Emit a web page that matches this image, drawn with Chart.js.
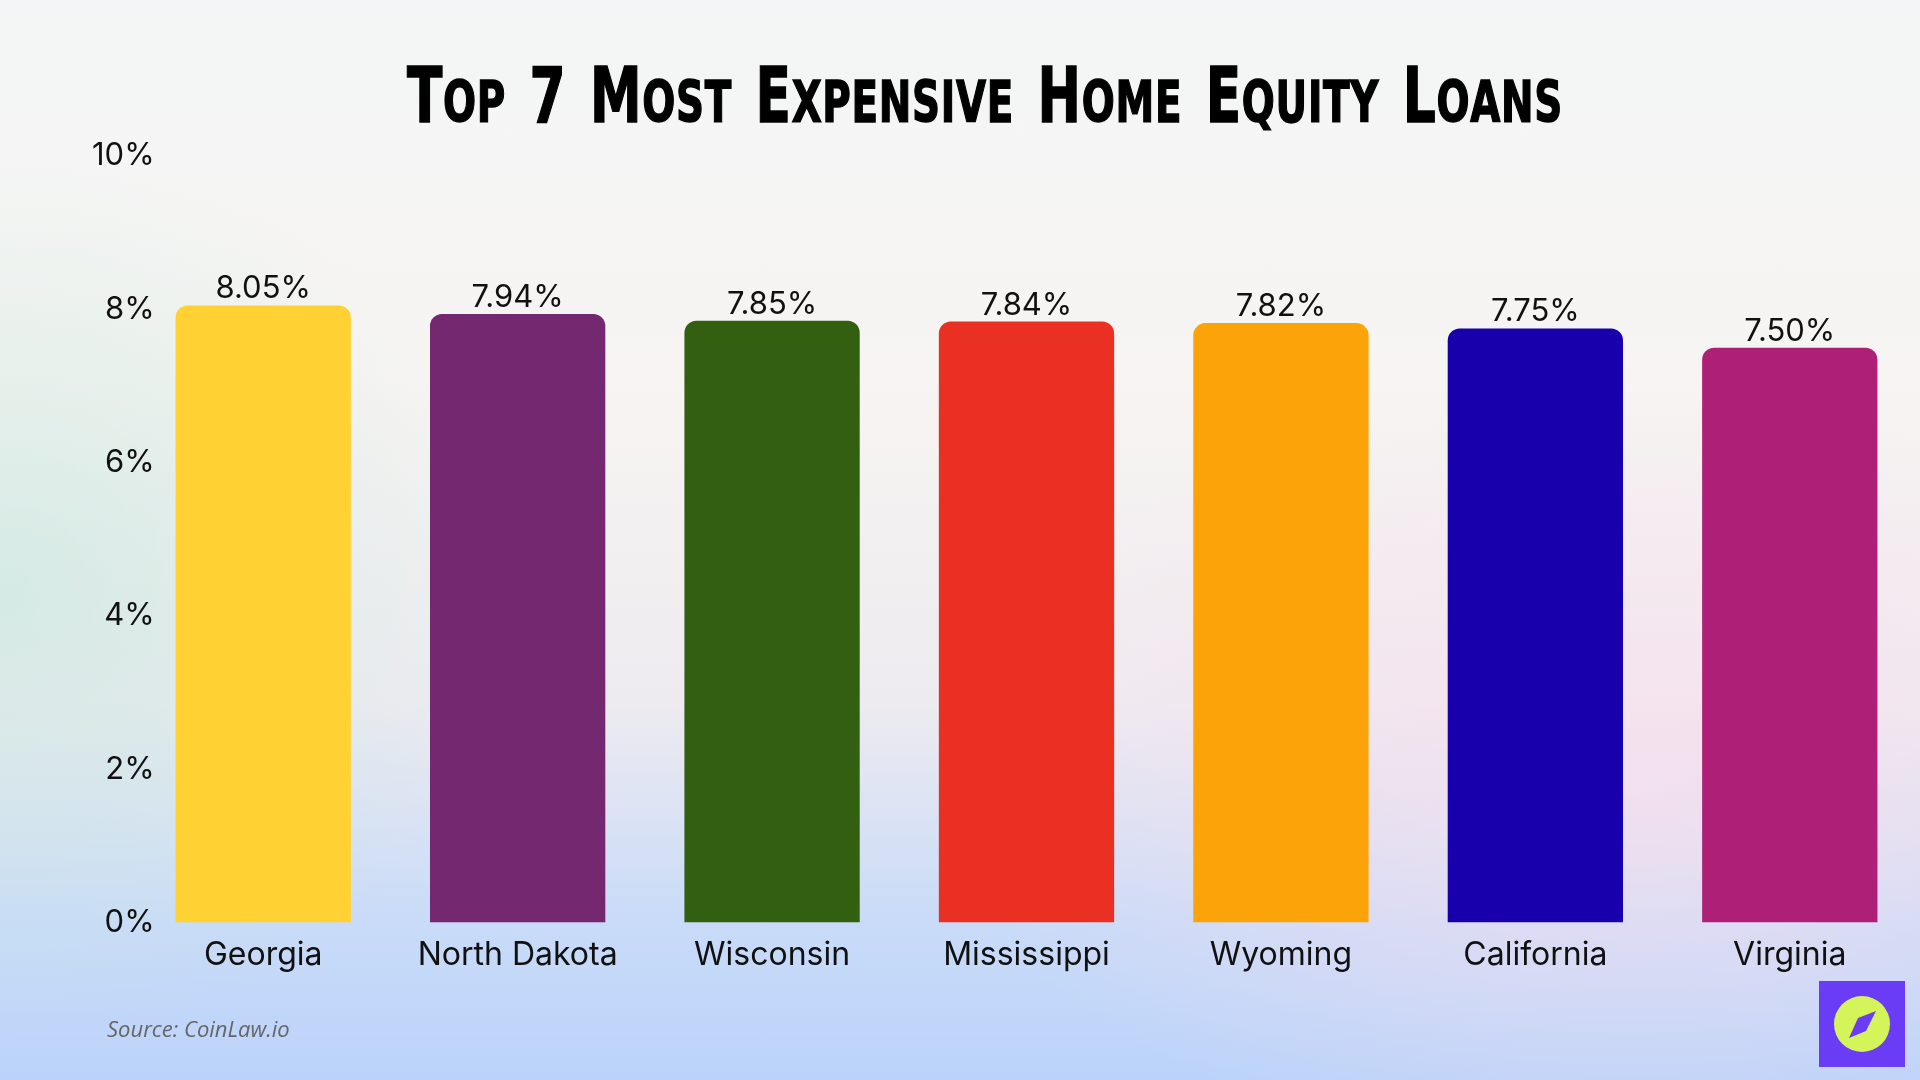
<!DOCTYPE html>
<html>
<head>
<meta charset="utf-8">
<script src="https://cdn.jsdelivr.net/npm/chart.js@4.4.1/dist/chart.umd.min.js"></script>
<style>
  html, body { margin: 0; padding: 0; }
  body {
    width: 1920px; height: 1080px; overflow: hidden;
    background:
      radial-gradient(ellipse 520px 440px at 0% 55%, rgba(198, 232, 222, 0.65), rgba(198, 232, 222, 0)),
      radial-gradient(ellipse 700px 380px at 85% 72%, rgba(250, 222, 236, 0.7), rgba(250, 222, 236, 0)),
      linear-gradient(to bottom, #f3f6f6 0%, #f7f4f2 35%, #eeebf0 65%, #c9dbf8 85%, #bbd3fa 100%);
  }
  #wrap { position: absolute; left: 0; top: 0; width: 1920px; height: 1080px; }
</style>
</head>
<body>
<div id="wrap"><canvas id="chart" width="1920" height="1080"></canvas></div>
<script>
const states = ["Georgia", "North Dakota", "Wisconsin", "Mississippi", "Wyoming", "California", "Virginia"];
const rates = [8.05, 7.94, 7.85, 7.84, 7.82, 7.75, 7.50];
const barColors = ["#FFD133", "#74286F", "#336010", "#E93022", "#FBA308", "#1800AC", "#AE1F78"];
const yTicks = [0, 2, 4, 6, 8, 10];
const titleText = "Top 7 Most Expensive Home Equity Loans";

const FONT = "Inter, 'DejaVu Sans', sans-serif";
const TITLE_FONT = "'DejaVu Sans', sans-serif";

// title in small caps, squeezed to the width of the original
function drawTitle(ctx) {
    const big = "bold 76px " + TITLE_FONT;
    const small = "bold 57px " + TITLE_FONT;
    const parts = [];
    let total = 0;
    for (const ch of titleText) {
        const isSmall = ch !== ch.toUpperCase();
        const f = isSmall ? small : big;
        const c = ch.toUpperCase();
        ctx.font = f;
        const w = ctx.measureText(c).width + (c === " " ? 8 : 1);
        parts.push({ c: c, f: f, w: w });
        total += w;
    }
    const left = 407, width = 1156;
    ctx.save();
    ctx.translate(left, 122);
    ctx.scale(width / total, 1);
    ctx.fillStyle = "#000";
    ctx.strokeStyle = "#000";
    ctx.lineWidth = 1.5;
    ctx.textBaseline = "alphabetic";
    ctx.textAlign = "left";
    let x = 0;
    parts.forEach(function (p) {
        ctx.font = p.f;
        ctx.fillText(p.c, x, 0);
        ctx.strokeText(p.c, x, 0);
        x += p.w;
    });
    ctx.restore();
}

// value labels above the bars, plus title, source text and the small logo
const extras = {
    id: "extras",
    afterDatasetsDraw(chart) {
        const ctx = chart.ctx;
        const meta = chart.getDatasetMeta(0);
        ctx.save();
        ctx.fillStyle = "#111";
        ctx.font = "31px " + FONT;
        ctx.textAlign = "center";
        ctx.textBaseline = "alphabetic";
        meta.data.forEach(function (bar, i) {
            ctx.fillText(rates[i].toFixed(2) + "%", bar.x, bar.y - 7);
        });
        ctx.restore();
    },
    afterDraw(chart) {
        const ctx = chart.ctx;
        drawTitle(ctx);

        ctx.save();
        ctx.fillStyle = "#666";
        ctx.font = "italic 22px 'Open Sans', " + FONT;
        ctx.textAlign = "left";
        ctx.textBaseline = "middle";
        ctx.fillText("Source: CoinLaw.io", 107, 1031);

        // logo
        ctx.fillStyle = "#6B3CF5";
        ctx.fillRect(1819, 981, 86, 86);
        ctx.fillStyle = "#D3F55A";
        ctx.beginPath();
        ctx.arc(1862, 1024, 28, 0, Math.PI * 2);
        ctx.fill();
        ctx.fillStyle = "#6B3CF5";
        ctx.beginPath();
        ctx.moveTo(1876, 1011);
        ctx.lineTo(1866, 1031);
        ctx.lineTo(1849, 1038);
        ctx.lineTo(1858, 1018);
        ctx.closePath();
        ctx.fill();
        ctx.restore();
    }
};

new Chart(document.getElementById("chart"), {
    type: "bar",
    data: {
        labels: states,
        datasets: [{
            data: rates,
            backgroundColor: barColors,
            borderRadius: 12,
            borderSkipped: "start",
            categoryPercentage: 1,
            barPercentage: 0.689
        }]
    },
    options: {
        responsive: false,
        animation: false,
        layout: { padding: { left: 0, right: 3, top: 156, bottom: 91 } },
        plugins: {
            legend: { display: false },
            tooltip: { enabled: false },
            title: { display: false }
        },
        scales: {
            x: {
                grid: { display: false, drawTicks: false },
                border: { display: false },
                ticks: { color: "#111", font: { family: FONT, size: 32 }, padding: 14 }
            },
            y: {
                min: 0,
                max: 10,
                afterFit(scale) { scale.width = 136; },
                afterBuildTicks(scale) { scale.ticks = yTicks.map(v => ({ value: v })); },
                grid: { display: false, drawTicks: false },
                border: { display: false },
                ticks: {
                    color: "#111",
                    font: { family: FONT, size: 31 },
                    mirror: true,
                    crossAlign: "far",
                    padding: -44,
                    callback: v => v + "%"
                }
            }
        }
    },
    plugins: [extras]
});
</script>
</body>
</html>
